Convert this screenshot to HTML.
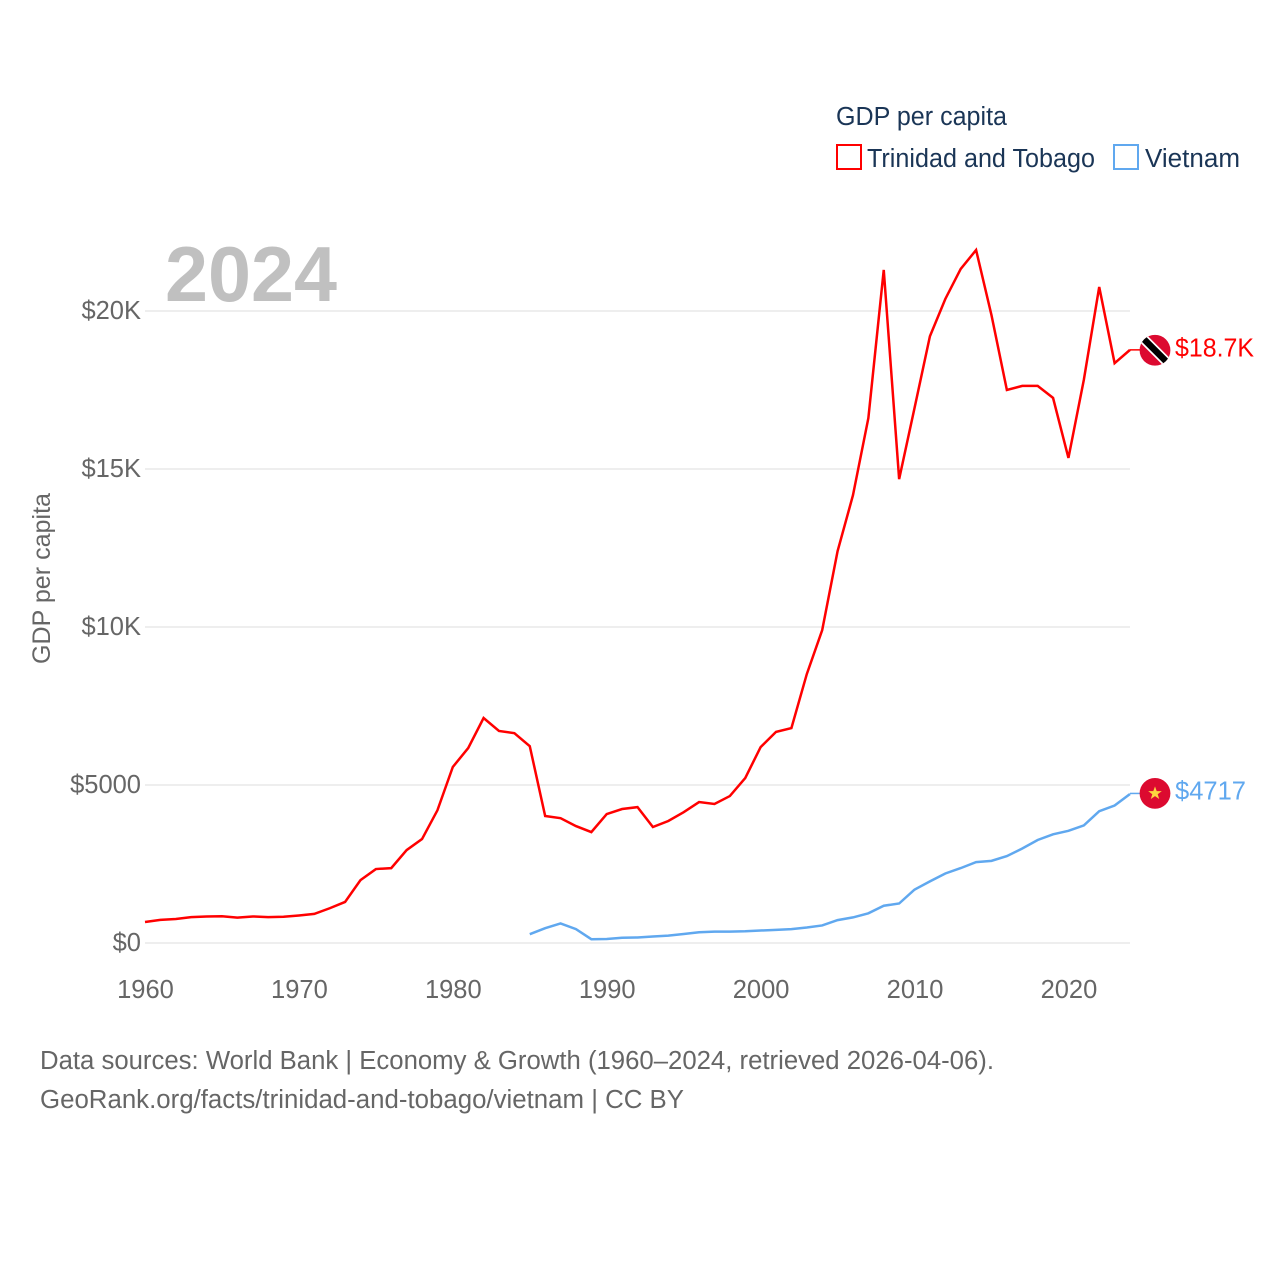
<!DOCTYPE html>
<html lang="en">
<head>
<meta charset="utf-8">
<title>GDP per capita: Trinidad and Tobago vs Vietnam</title>
<style>
html,body{margin:0;padding:0;background:#fff;}
svg{display:block;font-family:"Liberation Sans",sans-serif;}
</style>
</head>
<body>
<svg id="chart" width="1280" height="1280" viewBox="0 0 1280 1280" xmlns="http://www.w3.org/2000/svg">
  <rect x="0" y="0" width="1280" height="1280" fill="#fff"/>
  <g id="grid"></g>
  <g id="ytick"></g>
  <g id="xtick"></g>
  <text x="165" y="301" font-size="78" font-weight="700" fill="#c0c0c0" textLength="172" lengthAdjust="spacingAndGlyphs">2024</text>
  <text transform="translate(50,664) rotate(-90)" font-size="25" fill="#666" textLength="171" lengthAdjust="spacingAndGlyphs">GDP per capita</text>
  <g id="series"></g>

  <g>
    <text x="836" y="125" font-size="25.5" fill="#1a3556" textLength="171" lengthAdjust="spacingAndGlyphs">GDP per capita</text>
    <rect x="837" y="145" width="24" height="24" fill="none" stroke="#ff0000" stroke-width="2"/>
    <text x="867" y="167" font-size="25.5" fill="#1a3556" textLength="228" lengthAdjust="spacingAndGlyphs">Trinidad and Tobago</text>
    <rect x="1114" y="145" width="24" height="24" fill="none" stroke="#60a8ef" stroke-width="2"/>
    <text x="1145" y="167" font-size="25.5" fill="#1a3556" textLength="95" lengthAdjust="spacingAndGlyphs">Vietnam</text>
  </g>

  <g id="ends"></g>

  <text x="40" y="1069" font-size="25.5" fill="#666" textLength="954" lengthAdjust="spacingAndGlyphs">Data sources: World Bank | Economy &amp; Growth (1960–2024, retrieved 2026-04-06).</text>
  <text x="40" y="1108" font-size="25.5" fill="#666" textLength="644" lengthAdjust="spacingAndGlyphs">GeoRank.org/facts/trinidad-and-tobago/vietnam | CC BY</text>
</svg>
<script>
const years = [1960,1961,1962,1963,1964,1965,1966,1967,1968,1969,1970,1971,1972,1973,1974,1975,1976,1977,1978,1979,1980,1981,1982,1983,1984,1985,1986,1987,1988,1989,1990,1991,1992,1993,1994,1995,1996,1997,1998,1999,2000,2001,2002,2003,2004,2005,2006,2007,2008,2009,2010,2011,2012,2013,2014,2015,2016,2017,2018,2019,2020,2021,2022,2023,2024];
const trinidadValues = [665,730,760,820,840,845,805,840,820,830,870,920,1100,1300,1990,2340,2370,2940,3290,4200,5570,6170,7120,6710,6640,6230,4020,3950,3700,3510,4080,4240,4300,3670,3860,4140,4460,4400,4650,5220,6200,6680,6800,8510,9900,12400,14170,16610,21300,14680,16930,19200,20380,21330,21930,19870,17500,17630,17630,17250,15350,17820,20760,18350,18770];
const vietnamValues = [null,null,null,null,null,null,null,null,null,null,null,null,null,null,null,null,null,null,null,null,null,null,null,null,null,280,470,620,440,120,125,165,175,205,235,285,340,360,360,370,395,415,440,490,555,725,810,940,1180,1250,1690,1950,2200,2370,2560,2600,2750,2990,3260,3440,3550,3720,4170,4350,4717];
const yTickValues = [0,5000,10000,15000,20000];
const yTickLabels = ['$0','$5000','$10K','$15K','$20K'];
const xTickValues = [1960,1970,1980,1990,2000,2010,2020];
const endLabels = ['$18.7K','$4717'];

const NS = 'http://www.w3.org/2000/svg';
const xScale = function (year) { return 145 + (year - 1960) * (1130 - 145) / 64; };
const yScale = function (value) { return 943 - value * (943 - 311) / 20000; };

function make(tag, attrs, parent) {
  const el = document.createElementNS(NS, tag);
  Object.keys(attrs).forEach(function (k) { el.setAttribute(k, attrs[k]); });
  parent.appendChild(el);
  return el;
}

const gridG = document.getElementById('grid');
const yG = document.getElementById('ytick');
yTickValues.forEach(function (v, i) {
  const line = make('line', {x1: 145, x2: 1130, y1: yScale(v), y2: yScale(v), stroke: '#eeeeee', 'stroke-width': 2}, gridG);
  
  
  const t = make('text', {x: 141, y: yScale(v) + 8, 'text-anchor': 'end', 'font-size': 25.5, fill: '#666'}, yG);
  t.textContent = yTickLabels[i];
  
  
});

const xG = document.getElementById('xtick');
xTickValues.forEach(function (v) {
  const t = make('text', {x: xScale(v) + 0.5, y: 998, 'text-anchor': 'middle', 'font-size': 25.5, fill: '#666'}, xG);
  t.textContent = String(v);
  
  
});

function pathFrom(values) {
  let d = '';
  values.forEach(function (v, i) {
    if (v === null) return;
    d += (d ? 'L' : 'M') + xScale(years[i]).toFixed(2) + ' ' + yScale(v).toFixed(2);
  });
  return d;
}

const seriesG = document.getElementById('series');
const trinidadLine = make('path', {d: pathFrom(trinidadValues), fill: 'none', stroke: '#ff0000', 'stroke-width': 2.5, 'stroke-linejoin': 'miter'}, seriesG);


const vietnamLine = make('path', {d: pathFrom(vietnamValues), fill: 'none', stroke: '#60a8ef', 'stroke-width': 2.5, 'stroke-linejoin': 'miter'}, seriesG);



const endsG = document.getElementById('ends');
const lastYear = years[years.length - 1];

/* Trinidad and Tobago end marker */
const ty = yScale(trinidadValues[trinidadValues.length - 1]);
const tConn = make('line', {x1: xScale(lastYear), x2: 1140, y1: ty, y2: ty, stroke: '#ff0000', 'stroke-width': 1.5}, endsG);


const tFlag = make('g', {transform: 'translate(1155,' + (ty + 0.4) + ')'}, endsG);


const tClip = make('clipPath', {id: 'clip-tt'}, tFlag);
make('circle', {r: 15.4}, tClip);
make('circle', {r: 15.4, fill: '#dc0a30'}, tFlag);
make('line', {x1: -15, y1: -15, x2: 15, y2: 15, stroke: '#fff', 'stroke-width': 10, 'clip-path': 'url(#clip-tt)'}, tFlag);
make('line', {x1: -15, y1: -15, x2: 15, y2: 15, stroke: '#000', 'stroke-width': 6.5, 'clip-path': 'url(#clip-tt)'}, tFlag);
const tLabel = make('text', {x: 1175, y: ty + 6.5, 'font-size': 25.5, fill: '#ff0000', textLength: 79, lengthAdjust: 'spacingAndGlyphs'}, endsG);
tLabel.textContent = endLabels[0];



/* Vietnam end marker */
const vy = yScale(vietnamValues[vietnamValues.length - 1]);
const vConn = make('line', {x1: xScale(lastYear), x2: 1140, y1: vy - 0.5, y2: vy - 0.5, stroke: '#60a8ef', 'stroke-width': 1.5}, endsG);


const vFlag = make('g', {transform: 'translate(1155,' + (vy - 0.6) + ')'}, endsG);


make('circle', {r: 15.4, fill: '#dc0a30'}, vFlag);
make('polygon', {points: '0,-7 1.7,-2.2 6.8,-2.2 2.7,0.9 4.2,5.6 0,2.8 -4.2,5.6 -2.7,0.9 -6.8,-2.2 -1.7,-2.2', fill: '#fcd53f'}, vFlag);
const vLabel = make('text', {x: 1175, y: vy + 5.5, 'font-size': 25.5, fill: '#60a8ef', textLength: 71, lengthAdjust: 'spacingAndGlyphs'}, endsG);
vLabel.textContent = endLabels[1];


</script>
</body>
</html>
